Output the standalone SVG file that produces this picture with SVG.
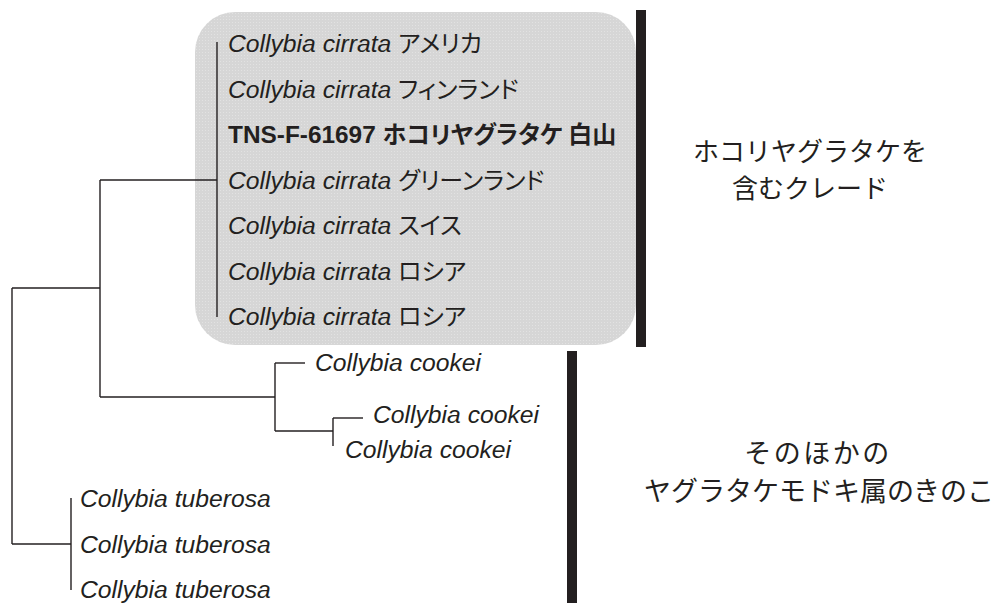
<svg xmlns="http://www.w3.org/2000/svg" width="997" height="603" viewBox="0 0 997 603">
<defs>
<style>
.sp{font-family:"Liberation Sans","Noto Sans CJK JP",sans-serif;font-size:24.7px;fill:#231f20;}
.it{font-style:italic;}
.jp{font-family:"Noto Sans CJK JP",sans-serif;font-style:normal;font-size:24px;font-feature-settings:"palt";}
.bd{font-weight:bold;}
.lbl{font-family:"Noto Sans CJK JP",sans-serif;font-size:26px;fill:#231f20;text-anchor:middle;}
.lbl2{font-size:27px;}
.br{fill:none;stroke:#231f20;stroke-width:1.4;}
.bar{fill:#231f20;}
</style>
<pattern id="dots" width="3" height="3" patternUnits="userSpaceOnUse">
<rect width="3" height="3" fill="#d6d6d6"/>
<rect x="1" y="1" width="1" height="1" fill="#e2e2e2"/>
</pattern>
</defs>
<rect id="clade-box" x="195" y="12" width="441" height="333" rx="40" ry="40" fill="url(#dots)"/>
<g id="connectors">
<path class="br" d="M217,42V317"/>
<path class="br" d="M100,180H217"/>
<path class="br" d="M100,180V397"/>
<path class="br" d="M12,288H100"/>
<path class="br" d="M12,288V544"/>
<path class="br" d="M100,397H275"/>
<path class="br" d="M275,363V431"/>
<path class="br" d="M275,363H305"/>
<path class="br" d="M275,431H333"/>
<path class="br" d="M333,418V446"/>
<path class="br" d="M333,418H363"/>
<path class="br" d="M12,544H71"/>
<path class="br" d="M71,498V590"/>
</g>
<g id="bars">
<rect class="bar" x="636" y="10" width="10" height="337"/>
<rect class="bar" x="567" y="351" width="10" height="252"/>
</g>
<g id="cirrata-usa"><text class="sp" x="228" y="52"><tspan class="it">Collybia cirrata</tspan> <tspan class="jp">アメリカ</tspan></text></g>
<g id="cirrata-finland"><text class="sp" x="228" y="97.5"><tspan class="it">Collybia cirrata</tspan> <tspan class="jp">フィンランド</tspan></text></g>
<g id="tns"><text class="sp bd" x="228" y="143" style="font-size:24.4px">TNS-F-61697 <tspan class="jp">ホコリヤグラタケ 白山</tspan></text></g>
<g id="cirrata-greenland"><text class="sp" x="228" y="188.5"><tspan class="it">Collybia cirrata</tspan> <tspan class="jp">グリーンランド</tspan></text></g>
<g id="cirrata-swiss"><text class="sp" x="228" y="234"><tspan class="it">Collybia cirrata</tspan> <tspan class="jp">スイス</tspan></text></g>
<g id="cirrata-russia1"><text class="sp" x="228" y="279.5"><tspan class="it">Collybia cirrata</tspan> <tspan class="jp">ロシア</tspan></text></g>
<g id="cirrata-russia2"><text class="sp" x="228" y="325"><tspan class="it">Collybia cirrata</tspan> <tspan class="jp">ロシア</tspan></text></g>
<g id="cookei1"><text class="sp it" x="315" y="371">Collybia cookei</text></g>
<g id="cookei2"><text class="sp it" x="373" y="423">Collybia cookei</text></g>
<g id="cookei3"><text class="sp it" x="345" y="458">Collybia cookei</text></g>
<g id="tuberosa1"><text class="sp it" x="80" y="507">Collybia tuberosa</text></g>
<g id="tuberosa2"><text class="sp it" x="80" y="553">Collybia tuberosa</text></g>
<g id="tuberosa3"><text class="sp it" x="80" y="598">Collybia tuberosa</text></g>
<g id="label-clade"><text class="lbl" x="810" y="161">ホコリヤグラタケを</text><text class="lbl" x="810" y="198">含むクレード</text></g>
<g id="label-other"><text class="lbl lbl2" x="818" y="463" letter-spacing="2.5">そのほかの</text><text class="lbl lbl2" x="819" y="501">ヤグラタケモドキ属のきのこ</text></g>
</svg>
